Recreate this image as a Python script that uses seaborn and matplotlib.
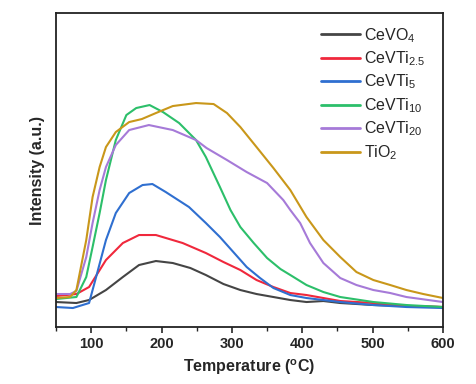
import pandas as pd
import matplotlib.pyplot as plt
import seaborn as sns
from matplotlib.ticker import MultipleLocator

# intensity readings (a.u.) vs temperature for each sample
t_cevo4 = [50, 79, 97, 121, 145, 168, 192, 216, 241, 263, 288, 312, 335, 359, 383, 406, 430, 454, 501, 548, 600]
y_cevo4 = [25, 24, 27, 37, 50, 62, 66, 64, 59, 52, 43, 37, 33, 30, 27, 25, 26, 24, 22, 21, 20]

t_ti25 = [50, 79, 97, 121, 145, 168, 192, 230, 263, 288, 312, 335, 359, 383, 406, 430, 454, 501, 548, 600]
y_ti25 = [31, 33, 40, 67, 84, 92, 92, 84, 74, 65, 57, 47, 40, 34, 32, 29, 26, 24, 21, 20]

t_ti5 = [50, 74, 97, 107, 121, 135, 154, 173, 187, 206, 239, 263, 283, 302, 321, 340, 359, 383, 406, 454, 501, 548, 600]
y_ti5 = [20, 19, 24, 50, 87, 114, 134, 142, 143, 135, 120, 104, 90, 75, 60, 49, 39, 32, 29, 25, 22, 20, 19]

t_ti10 = [50, 79, 93, 102, 112, 121, 135, 150, 164, 183, 202, 225, 249, 263, 283, 298, 312, 331, 350, 369, 383, 406, 430, 454, 501, 548, 600]
y_ti10 = [28, 30, 50, 80, 114, 147, 187, 212, 219, 222, 215, 204, 187, 170, 140, 117, 100, 84, 69, 58, 52, 42, 35, 30, 25, 22, 20]

t_ti20 = [50, 70, 79, 93, 102, 112, 121, 135, 154, 182, 216, 249, 264, 293, 321, 350, 373, 383, 397, 411, 430, 454, 477, 501, 525, 548, 600]
y_ti20 = [33, 33, 36, 70, 104, 137, 160, 182, 197, 202, 197, 187, 179, 167, 155, 144, 127, 117, 104, 84, 64, 49, 42, 37, 34, 30, 25]

t_tio2 = [50, 70, 79, 93, 102, 112, 121, 135, 154, 172, 192, 216, 249, 274, 293, 312, 335, 359, 383, 406, 430, 454, 477, 501, 525, 548, 572, 600]
y_tio2 = [29, 30, 37, 87, 130, 160, 180, 195, 205, 208, 214, 221, 224, 223, 214, 200, 180, 159, 137, 110, 87, 70, 55, 47, 42, 37, 33, 29]

labels = ["CeVO$_4$", "CeVTi$_{2.5}$", "CeVTi$_5$", "CeVTi$_{10}$", "CeVTi$_{20}$", "TiO$_2$"]
colors = ["#454545", "#f0283c", "#2f6fd0", "#2cbf6a", "#a67ad8", "#c9971a"]


def build_frame():
    series = [(t_cevo4, y_cevo4), (t_ti25, y_ti25), (t_ti5, y_ti5),
              (t_ti10, y_ti10), (t_ti20, y_ti20), (t_tio2, y_tio2)]
    parts = []
    for lab, (t, y) in zip(labels, series):
        parts.append(pd.DataFrame({"T": t, "I": y, "sample": lab}))
    return pd.concat(parts, ignore_index=True)


def main():
    sns.set_style("ticks")
    plt.rcParams["font.family"] = ["Liberation Sans", "DejaVu Sans"]
    plt.rcParams["mathtext.fontset"] = "custom"
    plt.rcParams["mathtext.rm"] = "Liberation Sans"
    plt.rcParams["mathtext.bf"] = "Liberation Sans:bold"

    df = build_frame()

    fig = plt.figure(figsize=(4.77, 3.84), dpi=100)
    ax = fig.add_axes([0.1174, 0.1484, 0.8113, 0.8176])
    sns.lineplot(data=df, x="T", y="I", hue="sample", hue_order=labels,
                 palette=colors, linewidth=1.5, sort=True, ax=ax)

    ax.set_xlim(50, 600)
    ax.set_ylim(0, 314)
    ax.set_yticks([])
    ax.xaxis.set_major_locator(MultipleLocator(100))
    ax.xaxis.set_minor_locator(MultipleLocator(50))
    ax.tick_params(axis="x", which="major", length=4, width=1.2, direction="out", pad=3)
    ax.tick_params(axis="x", which="minor", length=3, width=1.0, direction="out")
    for lab in ax.get_xticklabels():
        lab.set_fontweight("bold")
        lab.set_fontsize(10.5)
    for s in ax.spines.values():
        s.set_linewidth(1.3)
        s.set_color("#222222")

    ax.set_xlabel("Temperature ($\\mathbf{^{o}}$C)", fontsize=11.5, fontweight="bold", labelpad=5)
    ax.set_ylabel("Intensity (a.u.)", fontsize=11.5, fontweight="bold", labelpad=8)

    leg = ax.legend(loc="upper right", frameon=False, fontsize=11.5,
                    handlelength=2.4, handletextpad=0.3, labelspacing=0.3,
                    borderaxespad=0.3, bbox_to_anchor=(0.985, 0.995))
    for h in leg.get_lines():
        h.set_linewidth(2.0)

    fig.savefig("out.png", dpi=100)


main()
